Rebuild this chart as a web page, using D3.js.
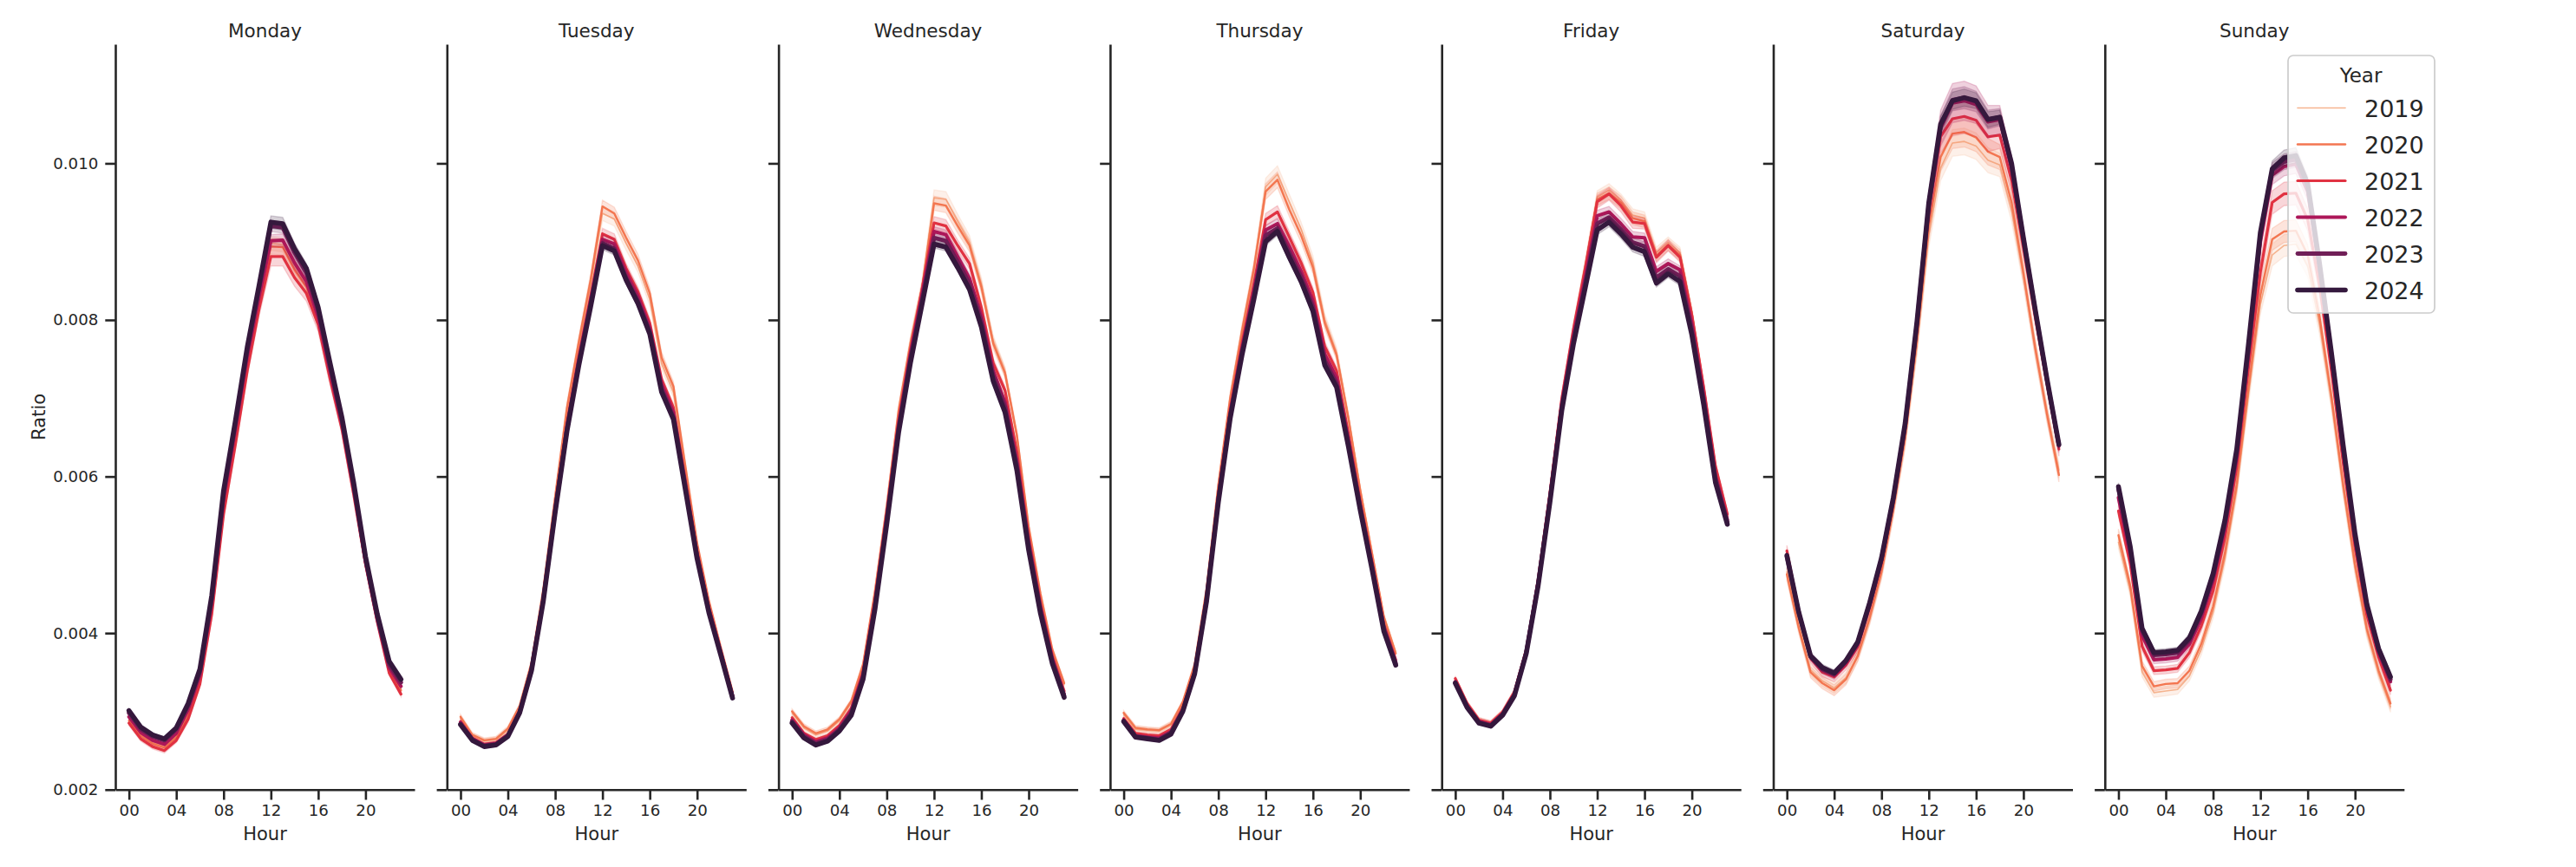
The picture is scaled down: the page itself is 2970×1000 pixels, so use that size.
<!DOCTYPE html>
<html><head><meta charset="utf-8">
<script src="https://cdn.jsdelivr.net/npm/d3@7"></script>
<style>
body{margin:0;background:#fff}
text{font-family:"DejaVu Sans",sans-serif;fill:#262626}
</style>
</head><body><svg id="chart" width="2970" height="1000"></svg>
<script>
// ---------- data (Ratio values are given in units of 1e-4) ----------
const days = ["Monday","Tuesday","Wednesday","Thursday","Friday","Saturday","Sunday"];
const years = ["2019","2020","2021","2022","2023","2024"];
const hours = [0,1,2,3,4,5,6,7,8,9,10,11,12,13,14,15,16,17,18,19,20,21,22,23];
const xTickValues = [0,4,8,12,16,20];
const xTickLabels = ["00","04","08","12","16","20"];
const yTickValues = [0.002,0.004,0.006,0.008,0.010];
const yTickLabels = ["0.002","0.004","0.006","0.008","0.010"];

// rows: 2019 .. 2024
const ratioMonday = [
[28.9,27.0,26.0,25.6,26.8,29.7,34.2,43.4,56.3,65.3,74.8,82.8,89.8,89.6,86.8,84.5,80.3,73.3,66.6,58.2,49.1,41.7,35.4,32.9],
[28.8,26.9,25.9,25.4,26.7,29.5,34.0,43.2,56.0,65.0,74.4,82.4,89.4,89.3,86.4,84.2,80.0,73.0,66.4,58.0,49.0,41.6,35.2,32.7],
[28.5,26.5,25.5,25.0,26.3,29.0,33.5,42.4,55.2,64.1,73.5,81.4,88.1,88.1,85.4,83.4,79.4,72.5,66.1,57.7,48.8,41.4,34.9,32.2],
[29.3,27.3,26.3,25.8,27.2,30.2,34.6,43.8,57.0,66.0,75.3,83.0,90.1,90.2,87.3,84.9,80.4,73.5,66.8,58.5,49.2,41.8,35.6,33.2],
[29.8,27.7,26.8,26.3,27.7,30.7,35.1,44.4,57.8,66.8,76.1,84.0,92.0,91.8,88.6,86.0,81.1,74.0,67.2,58.8,49.4,42.0,36.0,33.7],
[30.1,28.0,27.0,26.5,27.9,31.0,35.4,44.8,58.2,67.1,76.5,84.4,92.5,92.3,89.1,86.6,81.6,74.5,67.6,59.2,49.8,42.4,36.4,34.1]];
const ratioTuesday = [
[29.1,26.9,26.2,26.4,27.6,30.5,36.0,45.3,57.0,68.2,76.6,84.5,93.6,92.9,89.8,86.9,82.6,74.4,70.7,60.8,51.1,43.8,38.0,32.4],
[29.3,27.0,26.3,26.5,27.8,30.7,36.2,45.6,57.4,68.8,77.2,85.1,94.5,93.6,90.5,87.6,83.4,75.2,71.5,61.4,51.5,44.1,38.2,32.5],
[28.7,26.6,25.8,26.0,27.1,30.1,35.6,44.7,56.2,66.8,75.4,83.0,91.0,90.3,86.6,83.6,79.6,72.4,68.8,59.6,50.4,43.3,37.7,32.1],
[28.6,26.5,25.7,25.9,27.0,30.0,35.5,44.5,55.9,66.4,74.9,82.5,90.3,89.7,86.0,83.0,79.0,71.8,68.2,59.2,50.1,43.1,37.6,32.0],
[28.4,26.4,25.6,25.8,26.9,29.9,35.3,44.3,55.6,66.0,74.5,82.0,89.8,89.1,85.4,82.4,78.5,71.2,67.6,58.7,49.8,42.8,37.4,31.8],
[28.3,26.3,25.5,25.7,26.8,29.8,35.2,44.1,55.4,65.8,74.2,81.7,89.5,88.8,85.1,82.1,78.2,70.8,67.3,58.4,49.5,42.6,37.2,31.7]];
const ratioWednesday = [
[29.8,27.9,27.0,27.5,28.8,31.1,35.8,45.0,56.0,68.0,76.8,84.4,95.6,95.4,92.6,89.9,84.6,77.3,73.4,65.2,53.4,44.8,37.8,33.5],
[30.0,28.1,27.2,27.7,29.0,31.3,36.0,45.3,56.2,68.4,77.0,84.2,94.9,94.6,92.0,89.5,84.2,77.0,73.2,65.3,53.6,45.0,37.9,33.6],
[29.2,27.2,26.4,26.9,28.2,30.4,35.1,44.2,55.3,67.1,76.1,84.0,92.4,92.0,89.5,87.2,81.6,74.5,71.0,63.2,52.3,43.8,37.1,32.6],
[28.9,27.0,26.1,26.6,27.9,30.1,34.7,43.8,54.8,66.6,75.6,83.3,91.3,90.9,88.1,85.3,80.5,73.5,69.5,62.0,51.6,43.3,36.7,32.2],
[28.7,26.8,25.9,26.4,27.7,29.8,34.4,43.4,54.4,66.1,75.0,82.7,90.5,90.1,87.4,84.6,79.8,72.9,68.9,61.4,51.1,42.9,36.4,32.0],
[28.5,26.6,25.7,26.2,27.5,29.5,34.1,43.0,53.9,65.6,74.5,82.1,89.7,89.3,86.7,83.9,79.1,72.2,68.2,60.8,50.6,42.5,36.1,31.8]];
const ratioThursday = [
[29.6,27.7,27.6,27.5,28.3,31.0,35.8,45.4,58.6,69.6,78.2,86.2,97.0,98.6,95.1,91.6,87.3,80.0,75.8,67.6,58.4,50.3,42.2,37.5],
[29.8,27.9,27.7,27.6,28.4,31.2,36.0,45.6,58.9,70.0,78.6,86.5,96.4,97.9,94.1,90.8,86.7,79.6,75.5,67.4,58.2,50.1,42.0,37.4],
[29.1,27.2,27.0,26.9,27.7,30.5,35.3,44.7,57.8,68.6,77.0,84.5,92.8,93.8,90.6,87.3,83.5,76.6,73.5,65.5,56.8,49.1,41.1,36.6],
[28.9,26.9,26.7,26.6,27.4,30.2,35.0,44.4,57.3,68.0,76.3,83.7,91.5,92.3,89.4,86.2,82.4,75.6,72.6,64.7,56.3,48.7,40.8,36.3],
[28.8,26.8,26.6,26.4,27.3,30.1,34.9,44.2,57.0,67.7,75.9,83.1,90.8,91.7,88.6,85.5,81.7,74.8,71.9,64.2,56.0,48.4,40.5,36.1],
[28.7,26.7,26.5,26.3,27.1,30.0,34.8,44.0,56.7,67.4,75.5,82.6,90.0,91.3,88.0,84.9,81.1,74.2,71.4,63.8,55.7,48.1,40.2,35.9]];
const ratioFriday = [
[34.1,31.0,28.9,28.5,29.9,32.5,37.9,46.9,58.0,70.0,79.0,87.0,95.7,96.6,95.3,93.4,93.0,88.6,89.9,88.6,81.0,71.5,61.2,55.1],
[34.0,30.9,28.8,28.4,29.8,32.4,37.8,46.7,57.8,69.8,78.8,86.8,95.4,96.2,95.0,93.0,92.6,88.2,89.6,88.3,80.8,71.4,61.2,55.0],
[34.2,31.0,28.9,28.5,29.9,32.5,37.9,46.8,57.9,69.9,78.9,86.7,95.1,96.1,94.6,92.5,92.3,88.0,89.5,88.0,80.6,71.4,61.3,55.2],
[33.8,30.7,28.7,28.3,29.7,32.2,37.6,46.4,57.3,69.2,78.0,85.5,93.3,93.8,92.3,90.6,90.5,86.2,87.2,86.4,79.5,70.3,60.1,54.5],
[33.7,30.6,28.6,28.2,29.6,32.1,37.5,46.2,57.0,68.8,77.5,84.8,92.3,93.1,91.6,89.9,89.4,85.4,86.5,85.6,78.8,69.8,59.7,54.2],
[33.6,30.5,28.5,28.1,29.5,32.0,37.4,46.0,56.7,68.4,77.0,84.2,91.5,92.5,91.0,89.3,88.7,84.7,85.9,84.9,78.1,69.2,59.2,53.9]];
const ratioSaturday = [
[47.8,41.0,35.3,33.9,33.0,34.3,37.2,42.0,47.9,55.8,64.8,76.8,90.8,99.4,102.6,102.8,102.2,100.4,99.8,94.0,85.6,76.3,68.1,60.8],
[47.5,40.7,35.0,33.6,32.7,34.1,37.1,41.9,47.8,55.8,65.0,77.4,92.0,100.8,103.8,104.0,103.3,101.5,100.8,95.0,86.0,76.4,67.9,60.2],
[50.5,42.8,36.8,35.0,34.4,35.9,38.3,43.3,49.0,56.7,66.1,79.0,93.8,103.4,105.7,106.0,105.5,103.4,103.6,97.8,89.2,80.4,71.8,63.5],
[50.0,42.7,37.0,35.3,34.6,36.2,38.6,43.6,49.3,57.0,66.4,79.4,94.4,104.5,107.7,108.0,107.5,105.3,105.6,99.4,90.2,81.0,72.2,63.9],
[49.8,42.6,37.0,35.4,34.8,36.4,38.8,43.8,49.5,57.2,66.6,79.6,94.8,104.8,108.1,108.4,107.9,105.6,105.9,99.6,90.4,81.2,72.3,64.0],
[49.9,42.7,37.1,35.6,34.9,36.5,38.9,43.9,49.6,57.3,66.8,79.8,95.0,105.0,108.0,108.4,108.0,105.6,105.9,100.0,90.5,81.3,72.4,64.1]];
const ratioSunday = [
[51.6,45.3,35.0,32.4,32.6,32.8,34.5,37.9,42.7,49.5,58.3,70.5,82.0,88.3,89.5,89.7,86.8,79.4,69.6,58.4,48.3,40.2,34.8,30.6],
[52.5,46.0,35.8,33.2,33.5,33.6,35.2,38.6,43.4,50.2,59.0,71.4,83.2,90.3,91.3,91.4,88.3,80.4,70.3,59.0,48.8,40.6,35.2,31.0],
[55.6,48.8,38.3,35.2,35.3,35.5,37.5,40.9,45.4,52.2,61.2,74.0,86.1,95.0,96.1,96.2,92.8,84.4,73.6,61.8,51.0,42.3,36.9,32.7],
[57.3,49.9,39.7,36.6,36.7,36.9,38.6,41.9,46.7,53.4,62.4,75.8,90.0,98.5,99.6,99.9,96.4,86.5,75.0,63.2,52.0,43.2,37.5,33.8],
[58.4,50.7,40.3,37.2,37.3,37.5,39.1,42.5,47.3,54.0,63.0,76.4,90.8,99.1,100.2,100.5,97.0,87.0,75.6,63.6,52.3,43.4,37.8,34.1],
[58.7,51.0,40.6,37.5,37.6,37.8,39.4,42.8,47.6,54.4,63.5,77.0,91.2,99.3,100.7,101.0,97.4,87.2,75.9,64.0,52.7,43.7,38.0,34.4]];

// 95% confidence half-widths (units of 1e-4), rows 2019 .. 2024
const ciMonday = [
[0.3,0.3,0.3,0.3,0.3,0.4,0.4,0.5,0.6,0.7,0.7,0.8,0.9,0.9,0.9,0.8,0.8,0.7,0.6,0.5,0.4,0.4,0.3,0.3],
[0.3,0.3,0.3,0.3,0.3,0.4,0.4,0.5,0.6,0.7,0.8,0.8,1.0,1.0,0.9,0.9,0.8,0.7,0.6,0.5,0.4,0.4,0.3,0.3],
[0.3,0.3,0.3,0.3,0.3,0.4,0.4,0.5,0.6,0.7,0.8,0.9,1.2,1.2,1.1,1.0,0.9,0.8,0.6,0.5,0.4,0.4,0.3,0.3],
[0.2,0.2,0.2,0.2,0.2,0.3,0.3,0.4,0.5,0.6,0.6,0.7,0.8,0.8,0.7,0.7,0.6,0.6,0.5,0.4,0.3,0.3,0.2,0.2],
[0.2,0.2,0.2,0.2,0.2,0.3,0.3,0.4,0.5,0.5,0.6,0.6,0.7,0.7,0.7,0.6,0.6,0.5,0.5,0.4,0.3,0.3,0.2,0.2],
[0.2,0.2,0.2,0.2,0.2,0.3,0.3,0.4,0.5,0.5,0.6,0.6,0.8,0.8,0.7,0.6,0.6,0.5,0.5,0.4,0.3,0.3,0.2,0.2]];
const ciTuesday = [
[0.3,0.3,0.3,0.3,0.3,0.3,0.4,0.5,0.6,0.7,0.8,0.8,0.9,0.9,0.9,0.8,0.8,0.7,0.6,0.5,0.4,0.4,0.3,0.3],
[0.3,0.3,0.3,0.3,0.3,0.3,0.4,0.5,0.6,0.7,0.7,0.8,0.8,0.8,0.8,0.8,0.7,0.7,0.6,0.5,0.4,0.4,0.3,0.3],
[0.2,0.2,0.2,0.2,0.2,0.3,0.3,0.4,0.5,0.5,0.6,0.6,0.7,0.7,0.6,0.6,0.6,0.5,0.5,0.4,0.3,0.3,0.2,0.2],
[0.2,0.2,0.2,0.2,0.2,0.3,0.3,0.4,0.4,0.5,0.5,0.5,0.6,0.6,0.6,0.5,0.5,0.5,0.4,0.4,0.3,0.3,0.2,0.2],
[0.2,0.2,0.2,0.2,0.2,0.2,0.3,0.3,0.4,0.4,0.5,0.5,0.5,0.5,0.5,0.5,0.4,0.4,0.4,0.3,0.3,0.2,0.2,0.2],
[0.2,0.2,0.2,0.2,0.2,0.2,0.3,0.3,0.4,0.4,0.5,0.5,0.5,0.5,0.5,0.5,0.4,0.4,0.4,0.3,0.3,0.2,0.2,0.2]];
const ciWednesday = [
[0.3,0.3,0.3,0.3,0.3,0.3,0.4,0.5,0.6,0.7,0.8,0.9,1.0,1.0,0.9,0.9,0.8,0.7,0.6,0.5,0.4,0.4,0.3,0.3],
[0.3,0.3,0.3,0.3,0.3,0.3,0.4,0.5,0.6,0.7,0.8,0.8,0.9,0.9,0.9,0.8,0.8,0.7,0.6,0.5,0.4,0.4,0.3,0.3],
[0.2,0.2,0.2,0.2,0.2,0.3,0.3,0.4,0.5,0.6,0.6,0.7,0.8,0.8,0.7,0.7,0.6,0.6,0.5,0.4,0.3,0.3,0.2,0.2],
[0.2,0.2,0.2,0.2,0.2,0.3,0.3,0.4,0.4,0.5,0.5,0.6,0.6,0.6,0.6,0.6,0.5,0.5,0.4,0.4,0.3,0.3,0.2,0.2],
[0.2,0.2,0.2,0.2,0.2,0.2,0.3,0.3,0.4,0.4,0.5,0.5,0.5,0.5,0.5,0.5,0.4,0.4,0.4,0.3,0.3,0.2,0.2,0.2],
[0.2,0.2,0.2,0.2,0.2,0.2,0.3,0.3,0.4,0.4,0.5,0.5,0.5,0.5,0.5,0.5,0.4,0.4,0.4,0.3,0.3,0.2,0.2,0.2]];
const ciThursday = [
[0.3,0.3,0.3,0.3,0.3,0.3,0.4,0.5,0.6,0.7,0.8,0.9,1.1,1.1,1.0,0.9,0.9,0.8,0.7,0.6,0.5,0.4,0.3,0.3],
[0.3,0.3,0.3,0.3,0.3,0.3,0.4,0.5,0.6,0.7,0.8,0.8,1.0,1.0,0.9,0.9,0.8,0.7,0.6,0.5,0.4,0.4,0.3,0.3],
[0.2,0.2,0.2,0.2,0.2,0.3,0.3,0.4,0.5,0.6,0.6,0.7,0.8,0.8,0.7,0.7,0.6,0.6,0.5,0.4,0.3,0.3,0.2,0.2],
[0.2,0.2,0.2,0.2,0.2,0.3,0.3,0.4,0.4,0.5,0.5,0.6,0.6,0.6,0.6,0.6,0.5,0.5,0.4,0.4,0.3,0.3,0.2,0.2],
[0.2,0.2,0.2,0.2,0.2,0.2,0.3,0.3,0.4,0.4,0.5,0.5,0.5,0.5,0.5,0.5,0.4,0.4,0.4,0.3,0.3,0.2,0.2,0.2],
[0.2,0.2,0.2,0.2,0.2,0.2,0.3,0.3,0.4,0.4,0.5,0.5,0.5,0.5,0.5,0.5,0.4,0.4,0.4,0.3,0.3,0.2,0.2,0.2]];
const ciFriday = [
[0.3,0.3,0.3,0.3,0.3,0.3,0.4,0.5,0.6,0.7,0.7,0.8,0.8,0.8,0.8,0.8,0.8,0.7,0.7,0.7,0.6,0.5,0.4,0.4],
[0.3,0.3,0.3,0.3,0.3,0.3,0.4,0.5,0.6,0.7,0.7,0.8,0.8,0.8,0.8,0.8,0.8,0.7,0.7,0.7,0.6,0.5,0.4,0.4],
[0.3,0.3,0.3,0.3,0.3,0.3,0.4,0.5,0.5,0.6,0.7,0.7,0.8,0.8,0.8,0.8,0.7,0.7,0.7,0.6,0.5,0.5,0.4,0.4],
[0.2,0.2,0.2,0.2,0.2,0.3,0.3,0.4,0.5,0.5,0.6,0.6,0.7,0.7,0.7,0.7,0.6,0.6,0.6,0.5,0.5,0.4,0.3,0.3],
[0.2,0.2,0.2,0.2,0.2,0.3,0.3,0.4,0.4,0.5,0.5,0.6,0.6,0.6,0.6,0.6,0.6,0.5,0.5,0.5,0.4,0.4,0.3,0.3],
[0.2,0.2,0.2,0.2,0.2,0.3,0.3,0.4,0.4,0.5,0.5,0.6,0.6,0.6,0.6,0.6,0.6,0.5,0.5,0.5,0.4,0.4,0.3,0.3]];
const ciSaturday = [
[0.8,0.7,0.7,0.7,0.7,0.7,0.7,0.8,0.9,1.0,1.1,1.3,1.5,1.6,1.7,1.7,1.7,1.6,1.5,1.4,1.2,1.1,1.0,0.9],
[0.8,0.7,0.7,0.7,0.7,0.7,0.7,0.8,0.9,1.0,1.2,1.4,1.7,1.8,1.9,1.9,1.8,1.7,1.6,1.4,1.2,1.1,1.0,0.9],
[0.7,0.6,0.6,0.6,0.6,0.6,0.7,0.8,0.9,1.0,1.2,1.4,1.8,2.1,2.2,2.2,2.1,1.9,1.7,1.5,1.3,1.1,1.0,0.9],
[0.6,0.6,0.5,0.5,0.5,0.5,0.6,0.7,0.8,0.9,1.1,1.3,1.9,2.3,2.5,2.5,2.4,2.1,1.8,1.5,1.3,1.1,0.9,0.8],
[0.5,0.5,0.4,0.4,0.4,0.4,0.5,0.6,0.7,0.8,0.9,1.0,1.2,1.3,1.4,1.4,1.3,1.2,1.1,1.0,0.9,0.8,0.7,0.6],
[0.4,0.4,0.4,0.4,0.4,0.4,0.4,0.5,0.6,0.7,0.8,0.9,1.0,1.0,1.1,1.1,1.0,1.0,0.9,0.8,0.7,0.6,0.6,0.5]];
const ciSunday = [
[0.8,0.7,0.6,0.6,0.6,0.6,0.6,0.7,0.8,0.9,1.0,1.2,1.3,1.4,1.4,1.4,1.3,1.2,1.1,1.0,0.9,0.8,0.7,0.7],
[0.8,0.7,0.6,0.6,0.6,0.6,0.6,0.7,0.8,0.9,1.0,1.2,1.3,1.4,1.4,1.4,1.3,1.2,1.1,1.0,0.9,0.8,0.7,0.7],
[0.7,0.6,0.6,0.5,0.5,0.5,0.6,0.7,0.8,0.9,1.0,1.2,1.4,1.5,1.5,1.5,1.4,1.3,1.1,1.0,0.9,0.8,0.7,0.6],
[0.6,0.5,0.5,0.5,0.5,0.5,0.5,0.6,0.7,0.8,0.9,1.0,1.1,1.2,1.2,1.2,1.1,1.0,0.9,0.8,0.7,0.6,0.6,0.5],
[0.5,0.5,0.4,0.4,0.4,0.4,0.5,0.5,0.6,0.7,0.8,0.9,1.0,1.0,1.0,1.0,1.0,0.9,0.8,0.7,0.6,0.5,0.5,0.5],
[0.5,0.5,0.4,0.4,0.4,0.4,0.5,0.5,0.6,0.7,0.8,0.9,0.9,1.0,1.0,1.0,0.9,0.9,0.8,0.7,0.6,0.5,0.5,0.5]];

// ---------- styles / layout ----------
const colors = ["#f6b48f","#f37651","#e13342","#ad1759","#701f57","#35193e"];
const lineWidths = [1.6,2.4,3.2,4.0,4.8,5.6];
const ink = "#262626";
const panelW = 345, plotTop = 51, plotBottom = 910.8, panel0 = 133, panelStep = 382.3;

const ratioByDay = [ratioMonday,ratioTuesday,ratioWednesday,ratioThursday,ratioFriday,ratioSaturday,ratioSunday];
const ciByDay = [ciMonday,ciTuesday,ciWednesday,ciThursday,ciFriday,ciSaturday,ciSunday];

const svg = d3.select("#chart");
svg.append("rect").attr("width",2970).attr("height",1000).attr("fill","#fff");

const x = d3.scaleLinear().domain([-1.15, 24.15]).range([0, panelW]);
const y = d3.scaleLinear().domain([0.002, 0.011522]).range([plotBottom, plotTop]);

const line = d3.line().x(d => x(d.h)).y(d => y(d.v));
const band = d3.area().x(d => x(d.h)).y0(d => y(d.v - d.c)).y1(d => y(d.v + d.c));

days.forEach((day, di) => {
  const g = svg.append("g").attr("transform", `translate(${panel0 + di * panelStep},0)`);

  years.forEach((yr, yi) => {
    const pts = hours.map((h, k) => ({h: h, v: ratioByDay[di][yi][k] * 1e-4, c: ciByDay[di][yi][k] * 1e-4}));
    g.append("path").datum(pts).attr("d", line)
      .attr("fill","none").attr("stroke", colors[yi]).attr("stroke-width", lineWidths[yi])
      .attr("stroke-linejoin","round").attr("stroke-linecap","round");
    g.append("path").datum(pts).attr("d", band)
      .attr("fill", colors[yi]).attr("fill-opacity", 0.2)
      .attr("stroke", colors[yi]).attr("stroke-opacity", 0.2).attr("stroke-width", 1.4);
  });

  // y axis
  const yAxis = d3.axisLeft(y).tickValues(yTickValues).tickSize(11.7).tickSizeOuter(0).tickPadding(8)
    .tickFormat((d, i) => di === 0 ? yTickLabels[i] : "");
  const ya = g.append("g").call(yAxis);
  // x axis
  const xAxis = d3.axisBottom(x).tickValues(xTickValues).tickSize(11.7).tickSizeOuter(0).tickPadding(6)
    .tickFormat((d, i) => xTickLabels[i]);
  const xa = g.append("g").attr("transform", `translate(0,${plotBottom})`).call(xAxis);

  [ya, xa].forEach(a => {
    a.select(".domain").attr("stroke", ink).attr("stroke-width", 2.6);
    a.selectAll(".tick line").attr("stroke", ink).attr("stroke-width", 2.6);
    a.selectAll(".tick text").attr("fill", ink).style("font-family","DejaVu Sans")
      .style("font-size","18.2px");
  });

  // title
  g.append("text").attr("x", panelW / 2).attr("y", 43).attr("text-anchor","middle")
    .style("font-size","21.5px").text(day);
  // x label
  g.append("text").attr("x", panelW / 2).attr("y", 969).attr("text-anchor","middle")
    .style("font-size","21px").text("Hour");
  if (di === 0) {
    g.append("text").attr("transform", `translate(${52 - panel0},${(plotTop + plotBottom) / 2}) rotate(-90)`)
      .attr("text-anchor","middle").style("font-size","21px").text("Ratio");
  }
});

// ---------- legend ----------
const lg = svg.append("g");
lg.append("rect").attr("x", 2638).attr("y", 64).attr("width", 169).attr("height", 297).attr("rx", 6)
  .attr("fill", "#fff").attr("fill-opacity", 0.8).attr("stroke", "#cccccc").attr("stroke-width", 1.7);
lg.append("text").attr("x", 2722).attr("y", 94.5).attr("text-anchor","middle")
  .style("font-size","23px").text("Year");
years.forEach((yr, yi) => {
  const by = 135 + yi * 42;
  lg.append("line").attr("x1", 2649).attr("x2", 2704).attr("y1", by - 10.5).attr("y2", by - 10.5)
    .attr("stroke", colors[yi]).attr("stroke-width", lineWidths[yi]).attr("stroke-linecap","round");
  lg.append("text").attr("x", 2726).attr("y", by).style("font-size","27px").text(yr);
});
</script>
</body></html>
